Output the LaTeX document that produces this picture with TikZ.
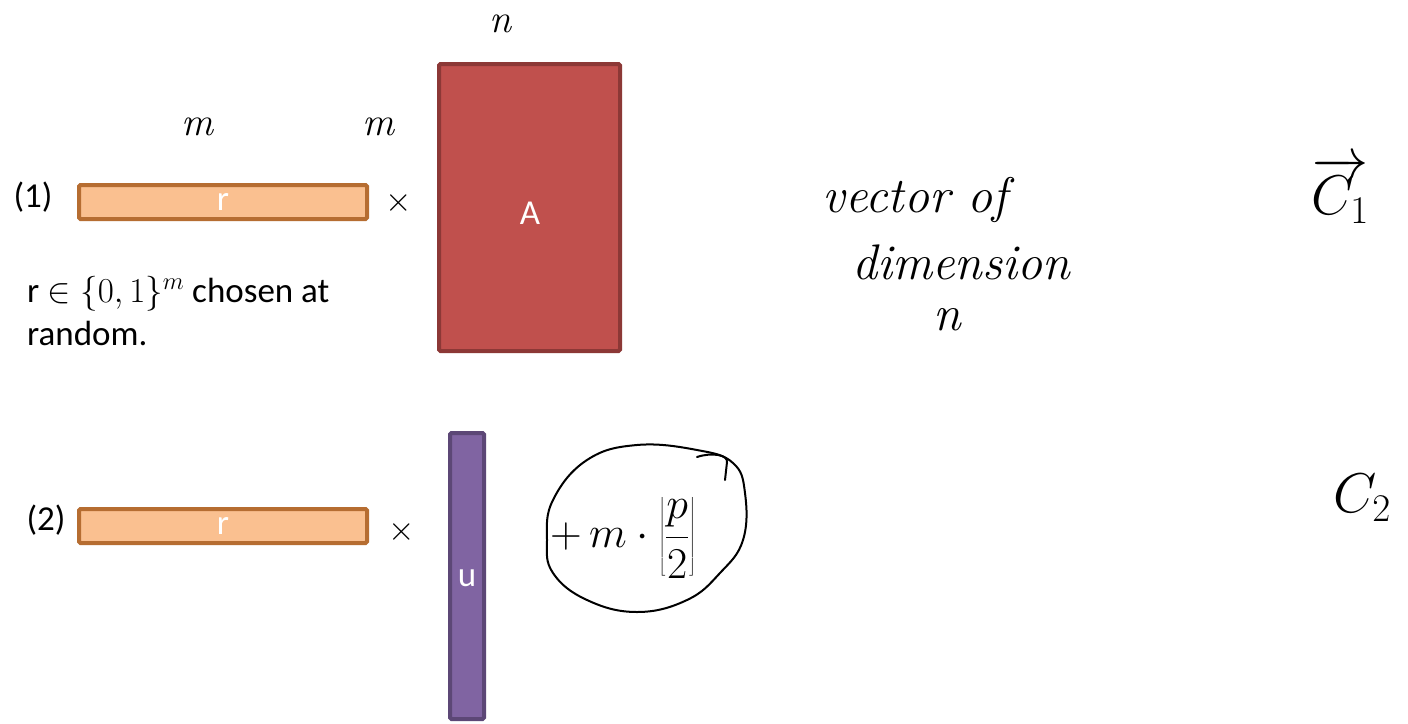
\RequirePackage{fix-cm}
\documentclass[tikz,border=0pt]{standalone}
\usepackage{fontspec}
\newfontfamily\calibri{Carlito}
\usetikzlibrary{calc}
\definecolor{orfill}{HTML}{FAC090}
\definecolor{ordraw}{HTML}{B66D31}
\definecolor{redfill}{HTML}{C0504D}
\definecolor{reddraw}{HTML}{8C3836}
\definecolor{pufill}{HTML}{8064A2}
\definecolor{pudraw}{HTML}{5C4776}
\tikzset{
  bar/.style={draw=ordraw, fill=orfill, line width=4pt, rounded corners=1.5pt},
  mat/.style={draw=reddraw, fill=redfill, line width=4pt, rounded corners=1.5pt},
  col/.style={draw=pudraw, fill=pufill, line width=4pt, rounded corners=1.5pt},
  lbl/.style={font=\calibri\fontsize{35}{40}\selectfont, inner sep=0pt},
  wlbl/.style={lbl, text=white},
  times/.style={font=\fontsize{34}{34}\selectfont, inner sep=0pt},
  hand/.style={font=\itshape\fontsize{50}{58}\selectfont, inner sep=0pt},
  handsmall/.style={font=\itshape\fontsize{40}{40}\selectfont, inner sep=0pt},
  handmath/.style={font=\fontsize{56}{56}\selectfont, inner sep=0pt},
  ink/.style={line width=2pt, line cap=round, line join=round}
}
\begin{document}
\begin{tikzpicture}[x=1pt,y=-1pt]
\useasboundingbox (0,0) rectangle (1408,723);
\fill[white] (0,0) rectangle (1408,723);

% row 1
\node[lbl] (one) at (33,197) {(1)};
\draw[bar] (79,185) rectangle (367,219);
\node[wlbl] (r1) at (223,202) {r};
\node[times] (x1) at (399,203) {$\times$};
\draw[mat] (439,64) rectangle (620,351);
\node[wlbl] (A) at (530,213) {A};
\node[handsmall] (n1) at (500,24) {n};
\node[handsmall] (m1) at (197,127) {m};
\node[handsmall] (m2) at (378,127) {m};
\node[lbl, anchor=base west, align=left] (desc) at (27,345)
  {r $\in\{0,1\}^m$ chosen at\\[3pt]random.};

\node[hand] (vec) at (915,200) {vector of};
\node[hand] (dim) at (961,262) {dimension};
\node[hand] (dn) at (947,320) {n};

\node[handmath] (c1) at (1340,190) {$\overrightarrow{C_1}$};
\node[handmath] (c2) at (1362,498) {$C_2$};

% row 2
\node[lbl] (two) at (46,520) {(2)};
\draw[bar] (79,509) rectangle (367,543);
\node[wlbl] (r2) at (223,526) {r};
\node[times] (x2) at (402,532) {$\times$};
\draw[col] (450,433) rectangle (484,719);
\node[wlbl] (u) at (467,578) {u};

\node[font=\fontsize{44}{44}\selectfont, inner sep=0pt] (expr) at (623,538)
  {$\displaystyle +\,m\cdot\left\lfloor\frac{p}{2}\right\rfloor$};
\draw[ink] plot[smooth cycle, tension=0.7] coordinates {
  (553,500) (587,460) (637,445) (697,450) (733,463) (745,493) (743,540)
  (720,573) (687,600) (637,612) (587,600) (553,573) (547,540)};
\draw[ink] (697,457) .. controls (712,452) and (728,455) .. (727,462) -- (725,480);
\end{tikzpicture}
\end{document}
